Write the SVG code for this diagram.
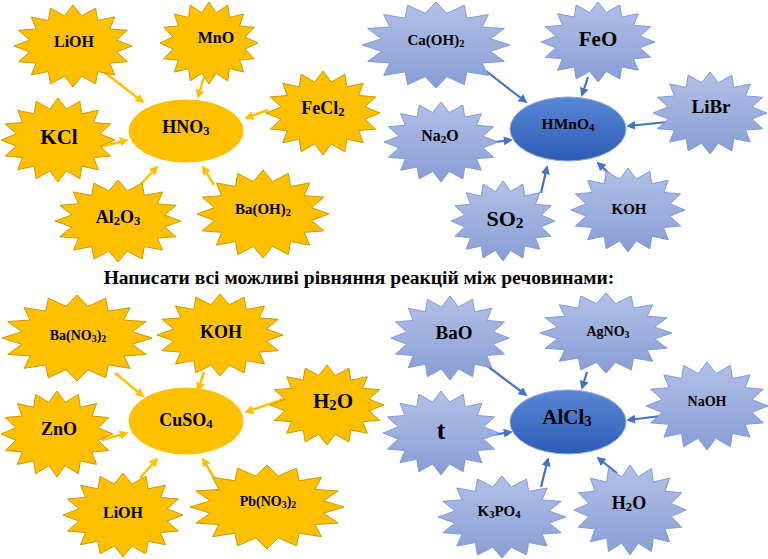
<svg xmlns="http://www.w3.org/2000/svg" xmlns:xlink="http://www.w3.org/1999/xlink" width="768" height="559" viewBox="0 0 768 559">
<style>
.t{font-family:"Liberation Serif","Times New Roman",serif;font-weight:bold;fill:#000;text-anchor:middle}
.s{font-size:70%}
.ys{fill:#FFC000;stroke:#C99A00;stroke-width:1}
.bs{fill:url(#gb);stroke:#7F9BD8;stroke-width:1}
.ye{fill:#FFC000;stroke:#FFC000;stroke-width:1}
.be{fill:url(#ge);stroke:#8EAADB;stroke-width:1}
.ya{stroke:#FFC000;stroke-width:2.5;fill:none;marker-end:url(#my)}
.ba{stroke:#4472C4;stroke-width:2.2;fill:none;marker-end:url(#mb)}
</style>
<defs>
<linearGradient id="gb" x1="0" y1="0" x2="0" y2="1">
<stop offset="0" stop-color="#B3C1E7"/><stop offset="1" stop-color="#889DD5"/>
</linearGradient>
<linearGradient id="ge" x1="0" y1="0" x2="0" y2="1">
<stop offset="0" stop-color="#5A88D6"/><stop offset="1" stop-color="#2C5CB4"/>
</linearGradient>
<polygon id="star" vector-effect="non-scaling-stroke" points="0,-1 0.14632,-0.73559 0.38268,-0.92388 0.41668,-0.6236 0.70711,-0.70711 0.6236,-0.41668 0.92388,-0.38268 0.73559,-0.14632 1,0 0.73559,0.14632 0.92388,0.38268 0.6236,0.41668 0.70711,0.70711 0.41668,0.6236 0.38268,0.92388 0.14632,0.73559 0,1 -0.14632,0.73559 -0.38268,0.92388 -0.41668,0.6236 -0.70711,0.70711 -0.6236,0.41668 -0.92388,0.38268 -0.73559,0.14632 -1,0 -0.73559,-0.14632 -0.92388,-0.38268 -0.6236,-0.41668 -0.70711,-0.70711 -0.41668,-0.6236 -0.38268,-0.92388 -0.14632,-0.73559"/>
<marker id="my" viewBox="0 0 10 10" refX="8" refY="5" markerWidth="9" markerHeight="9" markerUnits="userSpaceOnUse" orient="auto"><path d="M0,0 L10,5 L0,10 z" fill="#FFC000"/></marker>
<marker id="mb" viewBox="0 0 10 10" refX="8" refY="5" markerWidth="9" markerHeight="9" markerUnits="userSpaceOnUse" orient="auto"><path d="M0,0 L10,5 L0,10 z" fill="#4472C4"/></marker>
</defs>

<g id="connectors">
<line class="ya" x1="104" y1="72" x2="143" y2="102"/>
<line class="ya" x1="204" y1="77" x2="198" y2="97"/>
<line class="ya" x1="100" y1="147" x2="127" y2="140"/>
<line class="ya" x1="140" y1="185" x2="157" y2="167"/>
<line class="ya" x1="214" y1="185" x2="203" y2="167"/>
<line class="ya" x1="268" y1="110" x2="246" y2="118"/>

<line class="ba" x1="486" y1="71" x2="526" y2="102"/>
<line class="ba" x1="588" y1="77" x2="582" y2="95"/>
<line class="ba" x1="667" y1="122" x2="628" y2="126"/>
<line class="ba" x1="487" y1="143" x2="511" y2="140"/>
<line class="ba" x1="541" y1="193" x2="547" y2="167"/>
<line class="ba" x1="618" y1="182" x2="598" y2="163"/>

<line class="ya" x1="115" y1="373" x2="143" y2="396"/>
<line class="ya" x1="204" y1="372" x2="198" y2="390"/>
<line class="ya" x1="287" y1="398" x2="246" y2="412"/>
<line class="ya" x1="102" y1="440" x2="127" y2="433"/>
<line class="ya" x1="140" y1="478" x2="157" y2="459"/>
<line class="ya" x1="214" y1="478" x2="203" y2="459"/>

<line class="ba" x1="486" y1="365" x2="526" y2="395"/>
<line class="ba" x1="587" y1="372" x2="582" y2="388"/>
<line class="ba" x1="669" y1="415" x2="628" y2="420"/>
<line class="ba" x1="486" y1="436" x2="511" y2="432"/>
<line class="ba" x1="541" y1="487" x2="548" y2="459"/>
<line class="ba" x1="617" y1="473" x2="598" y2="458"/>
</g>

<!-- Top-left: HNO3 -->
<g id="n-lioh1"><use xlink:href="#star" class="ys" transform="translate(73,46) scale(59,41)"/><text class="t" x="74" y="47" font-size="16">LiOH</text></g>
<g id="n-mno"><use xlink:href="#star" class="ys" transform="translate(209,43) scale(49,41)"/><text class="t" x="216" y="43" font-size="16">MnO</text></g>
<g id="n-kcl"><use xlink:href="#star" class="ys" transform="translate(58,140) scale(57,42)"/><text class="t" x="59" y="144" font-size="21">KCl</text></g>
<g id="n-hno3"><ellipse class="ye" cx="186" cy="131" rx="57" ry="31"/><text class="t" x="186" y="133" font-size="18">HNO<tspan class="s" dy="2">3</tspan></text></g>
<g id="n-al2o3"><use xlink:href="#star" class="ys" transform="translate(118,221) scale(63,41)"/><text class="t" x="118" y="223" font-size="18">Al<tspan class="s" dy="2">2</tspan><tspan dy="-2">O</tspan><tspan class="s" dy="2">3</tspan></text></g>
<g id="n-baoh2"><use xlink:href="#star" class="ys" transform="translate(263,214) scale(66,44)"/><text class="t" x="263" y="214" font-size="15">Ba(OH)<tspan class="s" dy="2">2</tspan></text></g>
<g id="n-fecl2"><use xlink:href="#star" class="ys" transform="translate(323,113) scale(57,42)"/><text class="t" x="323" y="114" font-size="18">FeCl<tspan class="s" dy="2">2</tspan></text></g>

<!-- Top-right: HMnO4 -->
<g id="n-caoh2"><use xlink:href="#star" class="bs" transform="translate(436,45) scale(74,43)"/><text class="t" x="436" y="45" font-size="15">Ca(OH)<tspan class="s" dy="2">2</tspan></text></g>
<g id="n-feo"><use xlink:href="#star" class="bs" transform="translate(598,42) scale(57,40)"/><text class="t" x="598" y="46" font-size="21">FeO</text></g>
<g id="n-libr"><use xlink:href="#star" class="bs" transform="translate(710,113) scale(57,41)"/><text class="t" x="711" y="113" font-size="19">LiBr</text></g>
<g id="n-na2o"><use xlink:href="#star" class="bs" transform="translate(441,142) scale(57,40)"/><text class="t" x="440" y="141" font-size="16">Na<tspan class="s" dy="2">2</tspan><tspan dy="-2">O</tspan></text></g>
<g id="n-hmno4"><ellipse class="be" cx="568" cy="129" rx="58" ry="32"/><text class="t" x="568" y="129" font-size="15.5">HMnO<tspan class="s" dy="2">4</tspan></text></g>
<g id="n-so2"><use xlink:href="#star" class="bs" transform="translate(503,221) scale(52,40)"/><text class="t" x="505" y="226" font-size="22">SO<tspan class="s" dy="2">2</tspan></text></g>
<g id="n-koh1"><use xlink:href="#star" class="bs" transform="translate(628,210) scale(57,42)"/><text class="t" x="629" y="214" font-size="15">KOH</text></g>

<!-- Title -->
<text class="t" x="359" y="284" font-size="19.5">Написати всі можливі рівняння реакцій між речовинами:</text>

<!-- Bottom-left: CuSO4 -->
<g id="n-bano32"><use xlink:href="#star" class="ys" transform="translate(77,338) scale(75,43)"/><text class="t" x="78" y="340" font-size="14">Ba(NO<tspan class="s" dy="2">3</tspan><tspan dy="-2">)</tspan><tspan class="s" dy="2">2</tspan></text></g>
<g id="n-koh2"><use xlink:href="#star" class="ys" transform="translate(220,335) scale(63,41)"/><text class="t" x="221" y="338" font-size="18">KOH</text></g>
<g id="n-h2o1"><use xlink:href="#star" class="ys" transform="translate(327,405) scale(57,40)"/><text class="t" x="333" y="408" font-size="21">H<tspan class="s" dy="2">2</tspan><tspan dy="-2">O</tspan></text></g>
<g id="n-zno"><use xlink:href="#star" class="ys" transform="translate(57,434) scale(56,43)"/><text class="t" x="59" y="435" font-size="18">ZnO</text></g>
<g id="n-cuso4"><ellipse class="ye" cx="186" cy="421" rx="57" ry="33"/><text class="t" x="186" y="426" font-size="18">CuSO<tspan class="s" dy="2">4</tspan></text></g>
<g id="n-lioh2"><use xlink:href="#star" class="ys" transform="translate(123,515) scale(60,42)"/><text class="t" x="123" y="518" font-size="16">LiOH</text></g>
<g id="n-pbno32"><use xlink:href="#star" class="ys" transform="translate(267,507) scale(77,42)"/><text class="t" x="268" y="506" font-size="14">Pb(NO<tspan class="s" dy="2">3</tspan><tspan dy="-2">)</tspan><tspan class="s" dy="2">2</tspan></text></g>

<!-- Bottom-right: AlCl3 -->
<g id="n-bao"><use xlink:href="#star" class="bs" transform="translate(450,338) scale(59,42)"/><text class="t" x="454" y="339" font-size="19">BaO</text></g>
<g id="n-agno3"><use xlink:href="#star" class="bs" transform="translate(606,333) scale(66,40)"/><text class="t" x="608" y="336" font-size="14">AgNO<tspan class="s" dy="2">3</tspan></text></g>
<g id="n-naoh"><use xlink:href="#star" class="bs" transform="translate(707,406) scale(61,44)"/><text class="t" x="707" y="406" font-size="14">NaOH</text></g>
<g id="n-t"><use xlink:href="#star" class="bs" transform="translate(441,433) scale(58,42)"/><text class="t" x="441" y="439" font-size="26">t</text></g>
<g id="n-alcl3"><ellipse class="be" cx="568" cy="422" rx="58" ry="32"/><text class="t" x="567" y="424" font-size="21">AlCl<tspan class="s" dy="2">3</tspan></text></g>
<g id="n-k3po4"><use xlink:href="#star" class="bs" transform="translate(502,517) scale(64,41)"/><text class="t" x="499" y="516" font-size="15">K<tspan class="s" dy="2">3</tspan><tspan dy="-2">PO</tspan><tspan class="s" dy="2">4</tspan></text></g>
<g id="n-h2o2"><use xlink:href="#star" class="bs" transform="translate(630,510) scale(56,45)"/><text class="t" x="629" y="509" font-size="18">H<tspan class="s" dy="2">2</tspan><tspan dy="-2">O</tspan></text></g>
</svg>
